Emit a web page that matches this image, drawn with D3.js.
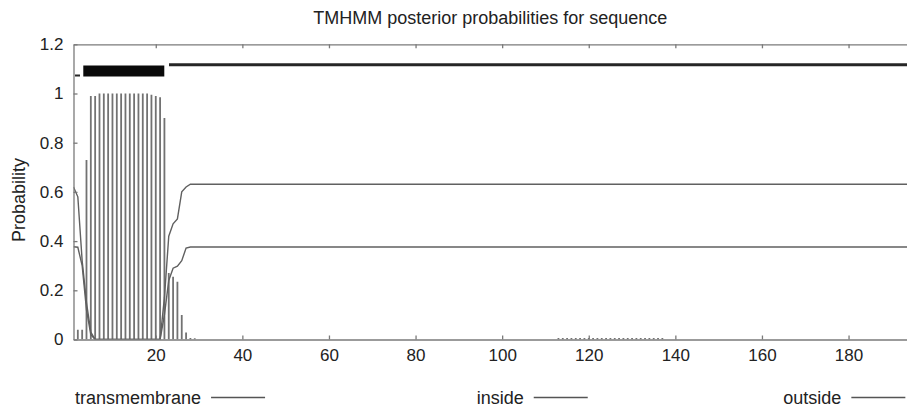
<!DOCTYPE html>
<html lang="en">
<head>
  <meta charset="UTF-8">
  <title>TMHMM posterior probabilities</title>
  <style>
    body { margin: 0; background: #fff; }
    svg text { font-family: "Liberation Sans", Arial, sans-serif; fill: #222; }
    .axis path, .axis line { stroke: #7a7a7a; stroke-width: 1.3; fill: none; }
    .axis text { font-size: 17px; }
  </style>
</head>
<body>
  <svg class="chart"></svg>
  <script src="https://cdn.jsdelivr.net/npm/d3@7/dist/d3.min.js"></script>
  <script>
    // transmembrane posterior (impulses, one per residue)
    var tmResidue = [2, 3, 4, 5, 6, 7, 8, 9, 10, 11, 12, 13, 14, 15, 16, 17, 18, 19, 20, 21, 22,
      23, 24, 25, 26, 27, 28, 29,
      113, 114, 115, 116, 117, 118, 119, 120, 121, 122, 123, 124, 125, 126, 127, 128, 129,
      130, 131, 132, 133, 134, 135, 136, 137];
    var tmProb = [0.04, 0.04, 0.73, 0.99, 0.99, 1, 1, 1, 1, 1, 1, 1, 1, 1, 1, 1, 1, 0.995, 0.99, 0.985, 0.9,
      0.27, 0.255, 0.235, 0.1, 0.028, 0.006, 0.005,
      0.006, 0.006, 0.006, 0.006, 0.006, 0.006, 0.006, 0.006, 0.006, 0.006, 0.006, 0.006, 0.006,
      0.006, 0.006, 0.006, 0.006, 0.006, 0.006, 0.006, 0.006, 0.006, 0.006, 0.006, 0.006];

    // inside / outside posteriors (line breakpoints)
    var curveResidue = [1, 2, 3, 4, 5, 6, 21, 22, 23, 24, 25, 26, 27, 28, 194];
    var insideProb  = [0.62, 0.58, 0.32, 0.15, 0.03, 0, 0, 0.10, 0.24, 0.29, 0.298, 0.32, 0.372, 0.376, 0.376];
    var outsideProb = [0.377, 0.375, 0.30, 0.12, 0.02, 0, 0, 0.17, 0.42, 0.47, 0.49, 0.60, 0.62, 0.631, 0.631];

    // predicted topology drawn above the plot
    var regionName  = ["inside", "transmembrane", "outside"];
    var regionStart = [1.35, 3.26, 23.06];
    var regionEnd   = [2.5, 21.97, 194];
    var regionLevel = [1.073, 1.091, 1.117];

    var xTicks = [20, 40, 60, 80, 100, 120, 140, 160, 180];
    var yTicks = [0, 0.2, 0.4, 0.6, 0.8, 1, 1.2];
    var yTickLabels = ["0", "0.2", "0.4", "0.6", "0.8", "1", "1.2"];
    var legendLabels = ["transmembrane", "inside", "outside"];

    var W = 907, H = 412;
    var plotLeft = 73.5, plotRight = 907, plotTop = 44.3, plotBottom = 339.5;

    var x = d3.scaleLinear().domain([1, 193.5]).range([plotLeft, plotRight]);
    var y = d3.scaleLinear().domain([0, 1.2]).range([plotBottom, plotTop]);

    var svg = d3.select(".chart").attr("width", W).attr("height", H);

    svg.append("defs").append("clipPath").attr("id", "plot")
      .append("rect").attr("x", plotLeft).attr("y", 0)
      .attr("width", plotRight - plotLeft).attr("height", plotBottom);

    var plot = svg.append("g").attr("clip-path", "url(#plot)");

    // impulses
    plot.selectAll("line.tm")
      .data(tmResidue)
      .enter().append("line")
      .attr("class", "tm")
      .attr("x1", function(d) { return x(d); })
      .attr("x2", function(d) { return x(d); })
      .attr("y1", y(0))
      .attr("y2", function(d, i) { return y(tmProb[i]); })
      .attr("stroke", "#727272")
      .attr("stroke-width", 1.8);

    var line = d3.line()
      .x(function(d) { return x(d[0]); })
      .y(function(d) { return y(d[1]); });

    [insideProb, outsideProb].forEach(function(vals) {
      plot.append("path")
        .attr("d", line(curveResidue.map(function(r, i) { return [r, vals[i]]; })))
        .attr("fill", "none")
        .attr("stroke", "#606060")
        .attr("stroke-width", 1.4);
    });

    // topology bars
    plot.selectAll("line.region")
      .data(regionName)
      .enter().append("line")
      .attr("class", "region")
      .attr("x1", function(d, i) { return x(regionStart[i]); })
      .attr("x2", function(d, i) { return x(regionEnd[i]); })
      .attr("y1", function(d, i) { return y(regionLevel[i]); })
      .attr("y2", function(d, i) { return y(regionLevel[i]); })
      .attr("stroke", function(d) { return d == "transmembrane" ? "#0a0a0a" : "#262626"; })
      .attr("stroke-width", function(d) {
        return d == "transmembrane" ? 11 : (d == "outside" ? 3 : 2);
      });

    // axes
    svg.append("g")
      .attr("class", "axis")
      .attr("transform", "translate(0," + plotBottom + ")")
      .call(d3.axisBottom(x).tickValues(xTicks).tickSizeInner(-4).tickSizeOuter(0).tickPadding(9));

    svg.append("g")
      .attr("class", "axis")
      .attr("transform", "translate(0," + plotTop + ")")
      .call(d3.axisTop(x).tickValues(xTicks).tickSizeInner(-4).tickSizeOuter(0).tickFormat(""));

    svg.append("g")
      .attr("class", "axis")
      .attr("transform", "translate(" + plotLeft + ",0)")
      .call(d3.axisLeft(y).tickValues(yTicks).tickSizeInner(-4).tickSizeOuter(0).tickPadding(10)
        .tickFormat(function(d, i) { return yTickLabels[i]; }));

    // title and labels
    svg.append("text")
      .attr("x", (plotLeft + plotRight) / 2)
      .attr("y", 24)
      .attr("text-anchor", "middle")
      .style("font-size", "18px")
      .text("TMHMM posterior probabilities for sequence");

    svg.append("text")
      .attr("transform", "translate(25,200) rotate(-90)")
      .attr("text-anchor", "middle")
      .style("font-size", "18px")
      .text("Probability");

    var legendX = [75, 476.7, 783.3];
    var legend = svg.selectAll("g.legend")
      .data(legendLabels)
      .enter().append("g")
      .attr("class", "legend")
      .attr("transform", function(d, i) { return "translate(" + legendX[i] + ",404)"; });

    legend.append("text")
      .style("font-size", "18px")
      .text(function(d) { return d; });

    legend.append("line")
      .attr("x1", function() { return this.parentNode.querySelector("text").getComputedTextLength() + 10; })
      .attr("x2", function() { return this.parentNode.querySelector("text").getComputedTextLength() + 64; })
      .attr("y1", -6.5)
      .attr("y2", -6.5)
      .attr("stroke", "#555")
      .attr("stroke-width", 1.5);
  </script>
</body>
</html>
